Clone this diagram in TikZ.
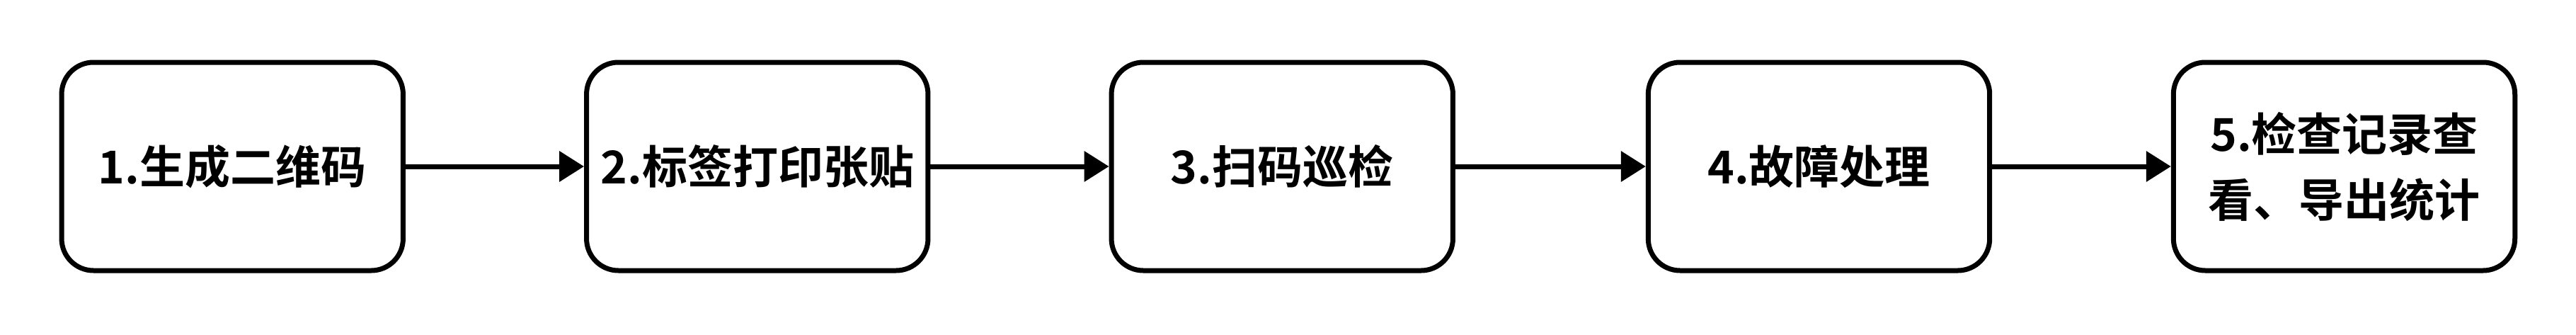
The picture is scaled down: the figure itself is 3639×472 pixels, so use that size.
\documentclass[tikz,border=0pt]{standalone}
\usepackage{fontspec}
\setmainfont{Noto Sans CJK SC}[BoldFont={Noto Sans CJK SC Bold}]
\usetikzlibrary{arrows.meta, positioning}

\begin{document}
\begin{tikzpicture}[x=0.25pt, y=-0.25pt]
			\tikzstyle{stepbox}=[draw, line width=1.75pt, rounded corners=11.25pt, minimum width=120.6pt, minimum height=73.5pt, inner sep=0pt, align=center, font=\bfseries\fontsize{16}{23.25}\selectfont]
			\tikzstyle{flow}=[line width=1.75pt, -{Triangle[length=8.75pt, width=10.5pt]}]
			\def\y{235};

			\useasboundingbox (0,0) rectangle (3639,472);

			\begin{scope}
				\node [stepbox] (gen) at (328.25,\y) {1.生成二维码};
				\node [stepbox] (print) at (1069.75,\y) {2.标签打印张贴};
				\node [stepbox] (scan) at (1811.25,\y) {3.扫码巡检};
				\node [stepbox] (fault) at (2569.5,\y) {4.故障处理};
				\node [stepbox] (record) at (3311.5,\y) {5.检查记录查\\看、导出统计};
			\end{scope}

			\begin{scope}
				\draw [flow] (gen) -- (print);
				\draw [flow] (print) -- (scan);
				\draw [flow] (scan) -- (fault);
				\draw [flow] (fault) -- (record);
			\end{scope}
		\end{tikzpicture}
\end{document}
